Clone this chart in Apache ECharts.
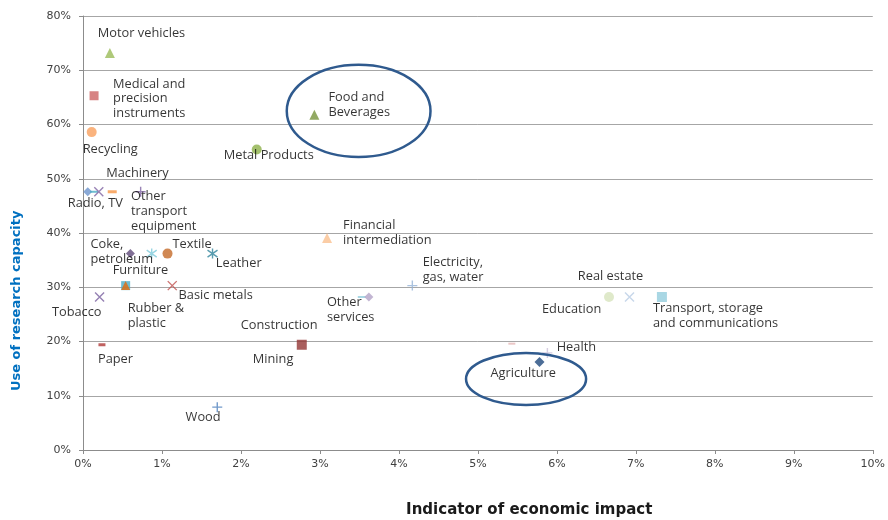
<!DOCTYPE html>
<html>
<head>
<meta charset="utf-8">
<script src="https://cdn.jsdelivr.net/npm/echarts@6/dist/echarts.min.js"></script>
<style>
  html, body { margin: 0; padding: 0; background: #fff; }
  #chart { width: 888px; height: 520px; }
</style>
</head>
<body>
<div id="chart"></div>
<script>
// Sectors: economic impact (% , x) against use of research capacity (% , y)
const sectors = [
  'Motor vehicles', 'Medical and\nprecision\ninstruments', 'Recycling', 'Metal Products',
  'Food and\nBeverages', 'Radio, TV', 'Office machinery', 'Electrical machinery',
  'Machinery', 'Other\ntransport\nequipment', 'Financial\nintermediation',
  'Coke,\npetroleum', 'Chemicals', 'Textile', 'Leather', 'Furniture',
  'Rubber &\nplastic', 'Basic metals', 'Tobacco', 'Paper', 'Mining', 'Construction',
  'Wood', 'Trade', 'Other\nservices', 'Electricity,\ngas, water', 'Education',
  'Real estate', 'Transport, storage\nand communications', 'Hotels and restaurants',
  'Health', 'Agriculture'
];
const impact = [
  0.34, 0.14, 0.11, 2.20,
  2.93, 0.06, 0.14, 0.20,
  0.37, 0.73, 3.09,
  0.60, 0.87, 1.07, 1.64, 0.54,
  0.54, 1.13, 0.21, 0.24, 2.77, 2.77,
  1.70, 3.53, 3.62, 4.17, 6.66,
  6.92, 7.33, 5.43,
  5.88, 5.78
];
const capacity = [
  73.2, 65.3, 58.6, 55.4,
  61.8, 47.6, 47.6, 47.6,
  47.6, 47.6, 39.1,
  36.2, 36.2, 36.2, 36.2, 30.3,
  30.3, 30.3, 28.2, 19.4, 19.4, 19.4,
  7.9, 28.2, 28.2, 30.3, 28.2,
  28.2, 28.2, 19.6,
  17.9, 16.2
];
const xTicks = [0, 1, 2, 3, 4, 5, 6, 7, 8, 9, 10];
const yTicks = [0, 10, 20, 30, 40, 50, 60, 70, 80];

// Highlight ellipses, in data units: [centre x, centre y, radius x, radius y]
const highlights = [
  [3.49, 62.5, 0.91, 8.5],
  [5.61, 13.1, 0.76, 4.8]
];

// Marker shapes
const X = 'path://M0,0 L10,10 M10,0 L0,10';
const PLUS = 'path://M5,0 L5,10 M0,5 L10,5';
const STAR = 'path://M5,0 L5,10 M0,1.5 L10,8.5 M10,1.5 L0,8.5';
const stroked = new Set([X, PLUS, STAR]);

// [symbol, size, colour]
const markerStyle = {
  'Motor vehicles': ['triangle', 10, '#9BBB59'],
  'Medical and\nprecision\ninstruments': ['rect', 9, '#CD6464'],
  'Recycling': ['circle', 10, '#F9A05E'],
  'Metal Products': ['circle', 10, '#8DB04A'],
  'Food and\nBeverages': ['triangle', 10, '#77933C'],
  'Radio, TV': ['diamond', 9, '#6D93CC'],
  'Office machinery': ['rect', [8, 2], '#4BACC6'],
  'Electrical machinery': [X, 9, '#8064A2'],
  'Machinery': ['rect', [9, 3], '#F79646'],
  'Other\ntransport\nequipment': [PLUS, 10, '#8064A2'],
  'Financial\nintermediation': ['triangle', 10, '#FAC090'],
  'Coke,\npetroleum': ['diamond', 9, '#604A7B'],
  'Chemicals': [STAR, 10, '#7ECADB'],
  'Textile': ['circle', 10, '#C46A28'],
  'Leather': [STAR, 10, '#31859C'],
  'Furniture': ['rect', 9, '#4BACC6'],
  'Rubber &\nplastic': ['triangle', 9, '#E46C0A'],
  'Basic metals': [X, 9, '#C0504D'],
  'Tobacco': [X, 9, '#7A62A0'],
  'Paper': ['rect', [7, 3], '#B03A38'],
  'Mining': ['rect', 10, '#943634'],
  'Construction': ['circle', 1, 'rgba(0,0,0,0)'],
  'Wood': [PLUS, 10, '#4F81BD'],
  'Trade': ['rect', [8, 2], '#93CDDD'],
  'Other\nservices': ['diamond', 9, '#B3A2C7'],
  'Electricity,\ngas, water': [PLUS, 10, '#95B3D7'],
  'Education': ['circle', 10, '#D7E4BD'],
  'Real estate': [X, 9, '#B9CDE5'],
  'Transport, storage\nand communications': ['rect', 10, '#93CDDD'],
  'Hotels and restaurants': ['rect', [7, 2], '#E6B9B8'],
  'Health': [PLUS, 10, '#CCC1DA'],
  'Agriculture': ['diamond', 10, '#1F497D']
};

// Label placement: text start offset from the marker centre, in pixels
const labelPlacement = {
  'Motor vehicles': [-12, -20],
  'Medical and\nprecision\ninstruments': [19, 3],
  'Recycling': [-9, 17],
  'Metal Products': [-33, 6],
  'Food and\nBeverages': [14, -10],
  'Radio, TV': [-20, 12],
  'Machinery': [-6, -18],
  'Other\ntransport\nequipment': [-9, 20],
  'Financial\nintermediation': [16, -5],
  'Coke,\npetroleum': [-40, -2],
  'Textile': [5, -9],
  'Leather': [4, 10],
  'Furniture': [-13, -15],
  'Rubber &\nplastic': [2, 30],
  'Basic metals': [7, 10],
  'Tobacco': [-47, 16],
  'Paper': [-4, 15],
  'Mining': [-49, 15],
  'Construction': [-61, -19],
  'Wood': [-31, 11],
  'Other\nservices': [-42, 13],
  'Electricity,\ngas, water': [11, -15],
  'Education': [-67, 12],
  'Real estate': [-51, -20],
  'Transport, storage\nand communications': [-9, 19],
  'Health': [10, -5],
  'Agriculture': [-49, 11]
};

const LABEL_FONT = '"Open Sans", "Noto Sans", sans-serif';

const points = sectors.map((name, i) => {
  const [symbol, size, color] = markerStyle[name];
  const line = stroked.has(symbol);
  const place = labelPlacement[name];
  const w = Array.isArray(size) ? size[0] : size;
  const h = Array.isArray(size) ? size[1] : size;
  return {
    name,
    value: [impact[i], capacity[i]],
    symbol,
    symbolSize: size,
    itemStyle: line
      ? { color: 'rgba(0,0,0,0)', borderColor: color, borderWidth: 1.4 }
      : { color },
    label: place ? {
      show: true,
      formatter: name,
      // array position is measured from the symbol's top-left corner
      position: [w / 2 + place[0], h / 2 + place[1]],
      align: 'left',
      verticalAlign: 'middle',
      color: '#000000',
      fontSize: 12.8,
      lineHeight: 14.8,
      fontFamily: LABEL_FONT
    } : { show: false }
  };
});

const chart = echarts.init(document.getElementById('chart'), null, { renderer: 'canvas' });

const GRID = { left: 83, right: 11, top: 16, bottom: 70 };

chart.setOption({
  animation: false,
  backgroundColor: '#ffffff',
  grid: GRID,
  xAxis: {
    type: 'value',
    min: xTicks[0],
    max: xTicks[xTicks.length - 1],
    interval: 1,
    axisLine: { show: true, lineStyle: { color: '#8c8c8c', width: 1 } },
    axisTick: { show: true, length: 4, lineStyle: { color: '#8c8c8c' } },
    splitLine: { show: false },
    axisLabel: {
      formatter: v => v + '%',
      color: '#404040',
      fontSize: 11,
      margin: 9,
      fontFamily: '"DejaVu Sans", sans-serif'
    }
  },
  yAxis: {
    type: 'value',
    min: yTicks[0],
    max: yTicks[yTicks.length - 1],
    interval: 10,
    axisLine: { show: true, lineStyle: { color: '#8c8c8c', width: 1 } },
    axisTick: { show: true, length: 4, lineStyle: { color: '#8c8c8c' } },
    splitLine: { show: true, lineStyle: { color: '#a6a6a6', width: 1 } },
    axisLabel: {
      formatter: v => v + '%',
      color: '#404040',
      fontSize: 11,
      margin: 12,
      fontFamily: '"DejaVu Sans", sans-serif'
    }
  },
  series: [{
    type: 'scatter',
    data: points,
    labelLayout: { hideOverlap: false },
    emphasis: { disabled: true },
    z: 3
  }]
});

// Axis titles and highlight ellipses, positioned through the axes
function drawOverlay() {
  const ellipses = highlights.map(([cx, cy, rx, ry]) => {
    const c = chart.convertToPixel({ gridIndex: 0 }, [cx, cy]);
    const e = chart.convertToPixel({ gridIndex: 0 }, [cx + rx, cy + ry]);
    return {
      type: 'ellipse',
      shape: { cx: c[0], cy: c[1], rx: Math.abs(e[0] - c[0]), ry: Math.abs(c[1] - e[1]) },
      style: { fill: null, stroke: '#2F5A8E', lineWidth: 2.5 },
      z: 10
    };
  });
  const xMid = chart.convertToPixel({ gridIndex: 0 }, [5.65, 0]);
  const yMid = chart.convertToPixel({ gridIndex: 0 }, [0, 27.5]);
  chart.setOption({
    graphic: [
      ...ellipses,
      {
        type: 'text',
        x: xMid[0], y: 510,
        style: {
          text: 'Indicator of economic impact',
          font: 'bold 15px "DejaVu Sans", sans-serif',
          fill: '#1a1a1a',
          align: 'center',
          verticalAlign: 'middle'
        }
      },
      {
        type: 'text',
        x: 17, y: yMid[1],
        rotation: Math.PI / 2,
        style: {
          text: 'Use of research capacity',
          font: 'bold 13px "DejaVu Sans", sans-serif',
          fill: '#0070C0',
          align: 'center',
          verticalAlign: 'middle'
        }
      }
    ]
  });
}
drawOverlay();
</script>
</body>
</html>
